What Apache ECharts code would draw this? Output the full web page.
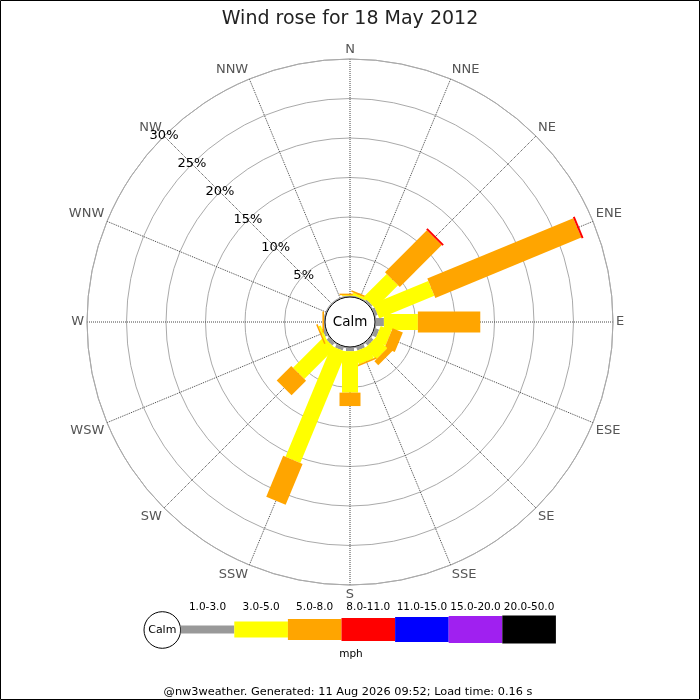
<!DOCTYPE html>
<html>
<head>
<meta charset="utf-8">
<script src="https://cdn.jsdelivr.net/npm/echarts@6/dist/echarts.min.js"></script>
<style>
  html, body { margin: 0; padding: 0; background: #fff; }
  #rose { width: 700px; height: 700px; }
</style>
</head>
<body>
<div id="rose"></div>
<script>
// compass directions, clockwise from north
var dirs = ['N', 'NNE', 'NE', 'ENE', 'E', 'ESE', 'SE', 'SSE', 'S', 'SSW', 'SW', 'WSW', 'W', 'WNW', 'NW', 'NNW'];

// speed classes (mph)
var speedClasses = ['1.0-3.0', '3.0-5.0', '5.0-8.0', '8.0-11.0', '11.0-15.0', '15.0-20.0', '20.0-50.0'];

// % of time per direction for each speed class
var spd1to3   = [0, 0, 0.2, 0.3, 1.0, 0.5, 0.4, 0.4, 0.4, 0.4, 0.4, 0.3, 0, 0, 0, 0];
var spd3to5   = [0.1, 0.3, 4.1, 7.55, 4.3, 1.5, 2.0, 1.7, 5.25, 15.2, 5.5, 0.3, 0, 0, 0, 0];
var spd5to8   = [0.2, 0.2, 7.5, 20.0, 7.9, 1.4, 0.7, 0.2, 1.7, 5.6, 2.6, 0.2, 0.2, 0, 0, 0];
var spd8to11  = [0, 0, 0.25, 0.25, 0, 0, 0, 0, 0, 0, 0, 0, 0, 0, 0, 0];
var spd11to15 = [0, 0, 0, 0, 0, 0, 0, 0, 0, 0, 0, 0, 0, 0, 0, 0];
var spd15to20 = [0, 0, 0, 0, 0, 0, 0, 0, 0, 0, 0, 0, 0, 0, 0, 0];
var spd20to50 = [0, 0, 0, 0, 0, 0, 0, 0, 0, 0, 0, 0, 0, 0, 0, 0];

// radial tick labels (%)
var pctTicks = [0, 5, 10, 15, 20, 25, 30];

var classData = [spd1to3, spd3to5, spd5to8, spd8to11, spd11to15, spd15to20, spd20to50];
var classColors = ['#999999', '#ffff00', '#ffa500', '#ff0000', '#0000ff', '#a020f0', '#000000'];
var classWidths = [8, 16, 21, 23, 25, 27, 28];

var FONT = 'DejaVu Sans';
var cx = 350, cy = 322;

// stack the classes outward along each direction
var segs = [];
dirs.forEach(function (d, i) {
    var acc = 0;
    classData.forEach(function (arr, k) {
        var v = arr[i];
        if (v > 0) {
            segs.push([i * 22.5, acc, acc + v, k]);
            acc += v;
        }
    });
});

function renderBar(params, api) {
    var a = api.value(0), r1 = api.value(1), r2 = api.value(2), k = api.value(3);
    var cs = params.coordSys;
    var p1 = api.coord([r1, a]);
    var p2 = api.coord([r2, a]);
    var pe = api.coord([30, a]);
    var dx = pe[0] - cs.cx, dy = pe[1] - cs.cy;
    var L = Math.sqrt(dx * dx + dy * dy);
    var nx = -dy / L, ny = dx / L;
    var h = classWidths[k] / 2;
    return {
        type: 'polygon',
        shape: {
            points: [
                [p1[0] + nx * h, p1[1] + ny * h],
                [p2[0] + nx * h, p2[1] + ny * h],
                [p2[0] - nx * h, p2[1] - ny * h],
                [p1[0] - nx * h, p1[1] - ny * h]
            ]
        },
        style: { fill: classColors[k] }
    };
}

// legend strip under the rose
var legend = [];
var lx = 180.7, segW = 53.6, ly = 629.5;
legend.push({ type: 'circle', shape: { cx: 162.3, cy: 630, r: 18.3 }, style: { fill: '#fff', stroke: '#000', lineWidth: 1 } });
legend.push({ type: 'text', x: 162.3, y: 630, style: { text: 'Calm', fill: '#000', font: '11px ' + FONT, align: 'center', verticalAlign: 'middle' } });
speedClasses.forEach(function (name, k) {
    var x0 = lx + k * segW;
    var hh = classWidths[k];
    legend.push({ type: 'rect', shape: { x: x0, y: ly - hh / 2, width: segW, height: hh }, style: { fill: classColors[k] } });
    legend.push({ type: 'text', x: x0 + segW / 2, y: 607, style: { text: name, fill: '#000', font: '10.5px ' + FONT, align: 'center', verticalAlign: 'middle' } });
});
legend.push({ type: 'text', x: 351, y: 654.5, style: { text: 'mph', fill: '#000', font: '10.5px ' + FONT, align: 'center', verticalAlign: 'middle' } });
legend.push({ type: 'text', x: 348, y: 692, style: { text: '@nw3weather. Generated: 11 Aug 2026 09:52; Load time: 0.16 s', fill: '#000', font: '11.3px ' + FONT, align: 'center', verticalAlign: 'middle' } });
legend.push({ type: 'rect', shape: { x: 0.5, y: 0.5, width: 699, height: 699 }, style: { fill: 'none', stroke: '#000', lineWidth: 1 } });

var chart = echarts.init(document.getElementById('rose'));

var option = {
    animation: false,
    backgroundColor: '#fff',
    textStyle: { fontFamily: FONT },
    title: {
        text: 'Wind rose for 18 May 2012',
        left: 'center',
        top: 5,
        textStyle: { fontSize: 19, fontWeight: 'normal', color: '#222', fontFamily: FONT }
    },
    polar: [
        { center: [cx, cy], radius: [26, 263] },
        { center: [cx, cy], radius: [26, 263] }
    ],
    angleAxis: [{
        polarIndex: 0,
        type: 'value',
        min: 0,
        max: 360,
        interval: 22.5,
        startAngle: 90,
        clockwise: true,
        axisLine: { show: true, lineStyle: { color: '#aaa', width: 1 } },
        axisTick: { show: false },
        axisLabel: {
            margin: 3,
            color: '#555',
            fontSize: 13,
            fontFamily: FONT,
            formatter: function (v) { return dirs[Math.round(v / 22.5) % 16]; }
        },
        splitLine: { show: true, lineStyle: { color: '#444', type: 'dotted', width: 1 } }
    }, {
        polarIndex: 1,
        type: 'value',
        min: 0,
        max: 360,
        startAngle: 135,
        show: false
    }],
    radiusAxis: [{
        polarIndex: 0,
        min: pctTicks[0],
        max: pctTicks[pctTicks.length - 1],
        interval: 5,
        axisLine: { show: false },
        axisTick: { show: false },
        axisLabel: { show: false },
        splitLine: { show: true, lineStyle: { color: '#aaa', width: 1 } }
    }, {
        polarIndex: 1,
        min: pctTicks[0],
        max: pctTicks[pctTicks.length - 1],
        interval: 5,
        axisLine: { show: false },
        axisTick: { show: false },
        splitLine: { show: false },
        axisLabel: {
            show: true,
            margin: 0,
            align: 'center',
            verticalAlign: 'middle',
            color: '#000',
            fontSize: 13,
            fontFamily: FONT,
            formatter: function (v) { return v === 0 ? '' : v + '%'; }
        }
    }],
    series: [{
        type: 'custom',
        coordinateSystem: 'polar',
        polarIndex: 0,
        encode: { angle: 0, radius: 2 },
        renderItem: renderBar,
        data: segs,
        silent: true,
        z: 3
    }, {
        type: 'pie',
        center: [cx, cy],
        radius: [0, 25],
        silent: true,
        z: 4,
        data: [{ value: 1, name: 'Calm' }],
        itemStyle: { color: '#fff', borderColor: '#000', borderWidth: 1 },
        label: { show: true, position: 'center', formatter: 'Calm', fontSize: 13.5, color: '#000', fontFamily: FONT },
        labelLine: { show: false }
    }],
    graphic: legend
};

chart.setOption(option);
</script>
</body>
</html>
